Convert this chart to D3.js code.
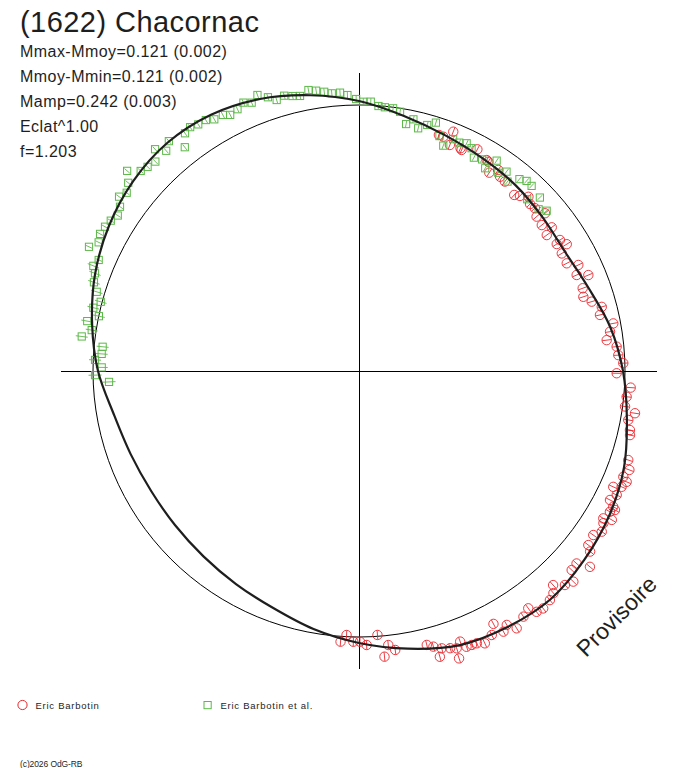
<!DOCTYPE html>
<html>
<head>
<meta charset="utf-8">
<script src="https://cdn.jsdelivr.net/npm/d3@7"></script>
<style>
  html, body { margin: 0; padding: 0; background: #fff; }
  svg { display: block; font-family: "Liberation Sans", Arial, sans-serif; }
</style>
</head>
<body>
<svg id="chart" width="688" height="768"></svg>
<script>
// ---------- DATA ----------
const title = "(1622) Chacornac";
const statLines = ["Mmax-Mmoy=0.121 (0.002)", "Mmoy-Mmin=0.121 (0.002)", "Mamp=0.242 (0.003)", "Eclat^1.00", "f=1.203"];
const seriesNames = ["Eric Barbotin", "Eric Barbotin et al."];
const watermark = "Provisoire";
const credit = "(c)2026 OdG-RB";

// mean-brightness reference circle (radial units) and axis extent
const meanRadius = 266;
const axisRadius = 298;

// model lightcurve (angle in degrees clockwise from top, radial value)
const modelAngle = [0,10,20,30,40,50,60,70,80,90,100,110,120,130,140,150,160,170,180,190,200,210,220,230,240,250,260,270,280,290,300,310,320,330,340,350];
const modelRadius = [270,259,251,246,243,239.5,238,244,255,264,272,282,289,294,298,296,292,282,272,262,252,246,242,240,240,243,249,261,271,281,289,295,298,296,289.5,280];

// series 1 : Eric Barbotin (red circles)
const redAngle = [18.7,19.8,21.5,21.9,24.5,24.9,28.1,31.2,31.7,33.3,
  34.7,36.0,37.6,41.4,42.6,44.2,45.7,47.2,49.0,49.7,
  51.4,53.3,54.1,56.9,57.3,58.6,59.9,62.6,64.2,66.2,
  67.3,69.7,71.7,73.4,75.2,76.9,79.4,81.1,82.9,84.6,
  86.5,88.3,90.5,93.5,95.5,97.6,98.7,100.3,102.3,103.3,
  108.3,110.1,111.8,112.5,114.5,113.8,115.7,117.2,118.1,119.3,
  121.1,118.5,120.5,121.9,123.5,125.0,127.2,128.0,130.3,131.5,
  133.1,134.5,136.1,137.8,138.8,140.2,142.2,143.6,144.5,146.2,
  148.5,149.8,151.0,152.0,153.3,155.2,156.6,157.6,158.7,159.5,
  160.6,160.8,161.8,163.4,164.2,164.9,166.1,172.6,173.9,174.9,
  176.0,178.4,179.8,181.2,182.7,183.9];
const redRadius = [249.2,249.0,257.2,243.6,244.8,243.7,251.3,246.6,246.0,237.3,
  244.6,240.1,239.1,234.7,237.8,243.0,239.0,239.7,235.3,243.9,
  233.9,240.4,231.8,239.9,235.0,243.4,234.4,234.0,243.6,237.9,
  248.6,238.5,236.3,242.8,251.1,247.4,258.7,254.1,249.6,258.8,
  259.8,264.4,257.7,272.2,268.9,268.4,279.2,273.7,277.3,278.5,
  283.6,287.9,284.7,289.7,279.4,287.0,286.0,282.2,288.2,287.7,
  285.3,291.3,293.4,287.9,291.1,286.0,287.9,293.3,302.8,290.5,
  291.3,300.5,297.0,289.0,295.2,298.2,300.5,299.2,291.5,295.6,
  301.8,293.8,298.0,286.4,295.5,300.0,296.7,296.3,296.0,288.9,
  294.0,304.3,291.8,289.4,297.0,285.5,282.2,281.3,275.6,286.8,
  264.6,274.1,270.7,270.8,264.3,271.3];
const redErr = 4.5;

// series 2 : Eric Barbotin et al. (green squares)
const greenAngle = [339.8,341.6,343.1,344.8,336.7,338.2,335.1,333.3,332.0,330.1,
  328.6,326.9,325.3,323.8,322.1,320.4,318.8,317.4,315.8,314.0,
  312.5,310.8,309.2,307.5,306.0,304.5,302.8,301.2,299.6,297.9,
  296.3,294.7,293.1,291.6,290.3,288.5,286.8,285.0,283.4,281.9,
  280.4,278.7,277.1,275.4,273.8,272.4,270.8,269.1,267.5,
  346.4,347.9,349.8,351.3,352.9,354.4,356.1,357.6,359.4,0.9,
  2.5,4.2,5.6,7.4,9.0,10.8,12.2,13.7,15.5,17.2,
  18.9,20.5,22.1,23.7,25.3,26.8,28.3,30.2,33.2,31.9,
  35.1,36.5,38.1,39.9,41.4,43.0,44.4,46.2,48.0,49.5];
const greenRadius = [294.1,288.5,283.2,285.3,292.2,289.0,288.6,286.7,290.0,290.3,
  294.0,294.4,296.6,294.6,283.6,298.3,292.7,301.3,292.1,293.9,
  296.1,306.3,297.8,292.8,296.6,290.0,287.0,290.2,292.1,293.0,
  290.4,297.2,283.0,285.7,281.5,279.5,274.0,267.4,273.1,265.8,
  276.3,270.4,279.4,257.5,257.9,264.2,257.3,264.0,250.2,
  282.9,281.3,285.5,283.6,281.4,279.0,279.0,276.2,272.0,269.3,
  269.6,265.7,265.0,264.9,262.5,251.4,257.5,249.8,255.3,260.0,
  248.3,240.6,250.2,249.4,251.9,249.6,242.3,244.8,251.4,238.8,
  242.3,248.0,240.7,250.1,253.4,253.1,240.4,250.6,241.7,246.8];
const greenErr = [3.5,3.5,3.5,3.5,3.5,3.5,3.5,3.5,3.5,3.5,
  3.5,3.5,3.5,3.5,3.5,3.5,3.5,3.5,3.5,3.5,
  3.5,3.5,3.5,3.5,3.5,3.5,3.5,3.5,3.5,3.5,
  3.5,3.5,3.5,6,6,6,6,6,6,6,
  6,6,6,6,6,6,6,6.5,6.5,
  3.5,3.5,3.5,3.5,3.5,3.5,3.5,3.5,3.5,3.5,
  3.5,3.5,3.5,3.5,3.5,3.5,3.5,3.5,3.5,3.5,
  3.5,3.5,3.5,3.5,3.5,3.5,3.5,3.5,3.5,3.5,
  3.5,3.5,3.5,3.5,3.5,3.5,3.5,3.5,3.5,3.5];

// ---------- STYLE ----------
const RED = "#e8262c", GREEN = "#5cb848", INK = "#1e1e1e";
const cx = 359, cy = 371;

const svg = d3.select("#chart");
const rScale = d3.scaleLinear().domain([0, axisRadius]).range([0, 298]);
const toRad = d => d * Math.PI / 180;
const px = (a, r) => cx + rScale(r) * Math.sin(toRad(a));
const py = (a, r) => cy - rScale(r) * Math.cos(toRad(a));

const plot = svg.append("g");

// axes
plot.append("line").attr("x1", px(270, axisRadius)).attr("x2", px(90, axisRadius))
  .attr("y1", cy).attr("y2", cy).attr("stroke", "#000").attr("stroke-width", 1).attr("shape-rendering", "crispEdges");
plot.append("line").attr("y1", py(0, axisRadius)).attr("y2", py(180, axisRadius))
  .attr("x1", cx).attr("x2", cx).attr("stroke", "#000").attr("stroke-width", 1).attr("shape-rendering", "crispEdges");

// mean circle
plot.append("circle").attr("cx", cx).attr("cy", cy).attr("r", rScale(meanRadius))
  .attr("fill", "none").attr("stroke", "#000").attr("stroke-width", 1);

const red = redAngle.map((a, i) => ({a, r: redRadius[i], e: redErr}));
const green = greenAngle.map((a, i) => ({a, r: greenRadius[i], e: greenErr[i]}));

const gRed = plot.append("g");
gRed.selectAll("line").data(red).join("line")
  .attr("x1", d => px(d.a, d.r - d.e)).attr("y1", d => py(d.a, d.r - d.e))
  .attr("x2", d => px(d.a, d.r + d.e)).attr("y2", d => py(d.a, d.r + d.e))
  .attr("stroke", RED).attr("stroke-width", 0.9);
gRed.selectAll("circle").data(red).join("circle")
  .attr("cx", d => px(d.a, d.r)).attr("cy", d => py(d.a, d.r)).attr("r", 4.7)
  .attr("fill", "none").attr("stroke", RED).attr("stroke-width", 0.9);

const gGreen = plot.append("g");
gGreen.selectAll("line").data(green).join("line")
  .attr("x1", d => px(d.a, d.r - d.e)).attr("y1", d => py(d.a, d.r - d.e))
  .attr("x2", d => px(d.a, d.r + d.e)).attr("y2", d => py(d.a, d.r + d.e))
  .attr("stroke", GREEN).attr("stroke-width", 0.9);
gGreen.selectAll("rect").data(green).join("rect")
  .attr("x", d => px(d.a, d.r) - 3.6).attr("y", d => py(d.a, d.r) - 3.6)
  .attr("width", 7.2).attr("height", 7.2)
  .attr("fill", "none").attr("stroke", GREEN).attr("stroke-width", 1);

// model curve
const model = modelAngle.map((a, i) => ({a, r: modelRadius[i]}));
const radial = d3.lineRadial()
  .angle(d => toRad(d.a))
  .radius(d => rScale(d.r))
  .curve(d3.curveCatmullRomClosed.alpha(0.5));
plot.append("path").attr("d", radial(model))
  .attr("transform", `translate(${cx},${cy})`)
  .attr("fill", "none").attr("stroke", INK).attr("stroke-width", 2.2);

// ---------- TEXT ----------
svg.append("text").attr("x", 20).attr("y", 32).text(title)
  .attr("font-size", 29).attr("letter-spacing", 0.45).attr("fill", INK);
svg.selectAll("text.stat").data(statLines).join("text").attr("class", "stat")
  .attr("x", 20).attr("y", (d, i) => 57 + i * 25).text(d => d)
  .attr("font-size", 16).attr("letter-spacing", 0.45).attr("fill", INK);

// watermark
svg.append("text").attr("transform", "translate(586,658) rotate(-45)")
  .text(watermark).attr("font-size", 23).attr("fill", INK);

// legend
const legend = svg.append("g");
legend.append("circle").attr("cx", 22.5).attr("cy", 705).attr("r", 4.6)
  .attr("fill", "none").attr("stroke", RED).attr("stroke-width", 1);
legend.append("text").attr("x", 35.5).attr("y", 708.5).text(seriesNames[0])
  .attr("font-size", 9.5).attr("letter-spacing", 0.75).attr("fill", INK);
legend.append("rect").attr("x", 204).attr("y", 701.5).attr("width", 7.2).attr("height", 7.2)
  .attr("fill", "none").attr("stroke", GREEN).attr("stroke-width", 1);
legend.append("text").attr("x", 220.5).attr("y", 708.5).text(seriesNames[1])
  .attr("font-size", 9.5).attr("letter-spacing", 0.75).attr("fill", INK);

svg.append("text").attr("x", 20).attr("y", 767).text(credit)
  .attr("font-size", 8.5).attr("letter-spacing", -0.1).attr("fill", INK);
</script>
</body>
</html>
